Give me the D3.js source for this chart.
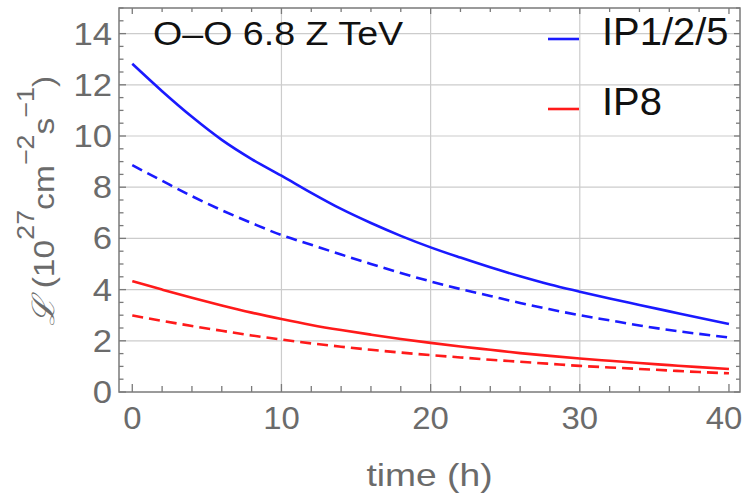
<!DOCTYPE html>
<html>
<head>
<meta charset="utf-8">
<script src="https://cdn.jsdelivr.net/npm/d3@7"></script>
<style>
  html, body { margin: 0; padding: 0; background: #fff; }
  svg { display: block; }
  text { font-family: "Liberation Sans", Arial, sans-serif; }
</style>
</head>
<body>
<div id="chart"></div>
<script>
const W = 746, H = 497;

// luminosity vs time, units of 1e27 cm^-2 s^-1
const timeH = [0, 2, 4, 6, 8, 10, 12, 14, 16, 18, 20, 22, 24, 26, 28, 30, 32, 34, 36, 38, 40];
const ip125Solid = [12.82, 11.75, 10.75, 9.85, 9.1, 8.45, 7.78, 7.15, 6.6, 6.1, 5.65, 5.25, 4.87, 4.52, 4.2, 3.92, 3.65, 3.4, 3.15, 2.9, 2.66];
const ip125Dashed = [8.86, 8.25, 7.65, 7.1, 6.6, 6.13, 5.75, 5.37, 5.0, 4.65, 4.32, 4.02, 3.75, 3.48, 3.23, 3.0, 2.8, 2.6, 2.42, 2.27, 2.13];
const ip8Solid = [4.33, 4.0, 3.68, 3.38, 3.1, 2.85, 2.62, 2.42, 2.24, 2.07, 1.92, 1.78, 1.65, 1.52, 1.41, 1.31, 1.22, 1.13, 1.05, 0.97, 0.9];
const ip8Dashed = [2.99, 2.78, 2.58, 2.39, 2.21, 2.05, 1.9, 1.77, 1.65, 1.54, 1.44, 1.35, 1.26, 1.18, 1.1, 1.02, 0.96, 0.9, 0.84, 0.78, 0.73];

const xTickLabels = [0, 10, 20, 30, 40];
const yTickLabels = [0, 2, 4, 6, 8, 10, 12, 14];
const xGrid = [10, 20, 30];
const yGrid = [2, 4, 6, 8, 10, 12, 14];
const legendItems = [
    { label: "IP1/2/5", color: "#1a1aff" },
    { label: "IP8", color: "#ff1a1a" }
];

const plot = { left: 119, right: 740, top: 8, bottom: 392 };

const x = d3.scaleLinear().domain([-0.89, 40.74]).range([plot.left, plot.right]);
const y = d3.scaleLinear().domain([0, 15]).range([plot.bottom, plot.top]);

const svg = d3.select("#chart").append("svg")
    .attr("width", W).attr("height", H);

const axisGray = "#7a7a7a";
const labelGray = "#6b6b6b";

// grid
svg.append("g").selectAll("line").data(xGrid).join("line")
    .attr("x1", d => x(d)).attr("x2", d => x(d))
    .attr("y1", plot.top).attr("y2", plot.bottom)
    .attr("stroke", "#cccccc").attr("stroke-width", 1.2);
svg.append("g").selectAll("line").data(yGrid).join("line")
    .attr("x1", plot.left).attr("x2", plot.right)
    .attr("y1", d => y(d)).attr("y2", d => y(d))
    .attr("stroke", "#cccccc").attr("stroke-width", 1.2);

// curves
const line = d3.line()
    .x((d, i) => x(timeH[i]))
    .y(d => y(d))
    .curve(d3.curveMonotoneX);

const series = [
    { values: ip125Solid, color: legendItems[0].color, dash: null },
    { values: ip125Dashed, color: legendItems[0].color, dash: "11,6" },
    { values: ip8Solid, color: legendItems[1].color, dash: null },
    { values: ip8Dashed, color: legendItems[1].color, dash: "11,6" }
];

svg.append("g").selectAll("path").data(series).join("path")
    .attr("d", d => line(d.values))
    .attr("fill", "none")
    .attr("stroke", d => d.color)
    .attr("stroke-width", 2.6)
    .attr("stroke-dasharray", d => d.dash);

// frame
svg.append("rect")
    .attr("x", plot.left).attr("y", plot.top)
    .attr("width", plot.right - plot.left).attr("height", plot.bottom - plot.top)
    .attr("fill", "none").attr("stroke", axisGray).attr("stroke-width", 1.5);

// ticks on all four sides, pointing inward
const xMinor = d3.range(0, 40.01, 2);
const yMinor = d3.range(0, 15.01, 0.5);
const ticks = svg.append("g").attr("stroke", axisGray).attr("stroke-width", 1.3);
ticks.selectAll(".xb").data(xMinor).join("line").attr("class", "xb")
    .attr("x1", d => x(d)).attr("x2", d => x(d))
    .attr("y1", plot.bottom).attr("y2", d => plot.bottom - (d % 10 === 0 ? 8 : 6));
ticks.selectAll(".xt").data(xMinor).join("line").attr("class", "xt")
    .attr("x1", d => x(d)).attr("x2", d => x(d))
    .attr("y1", plot.top).attr("y2", d => plot.top + (d % 10 === 0 ? 6 : 4));
ticks.selectAll(".yl").data(yMinor).join("line").attr("class", "yl")
    .attr("y1", d => y(d)).attr("y2", d => y(d))
    .attr("x1", plot.left).attr("x2", d => plot.left + (d % 2 === 0 ? 7 : 4.5));
ticks.selectAll(".yr").data(yMinor).join("line").attr("class", "yr")
    .attr("y1", d => y(d)).attr("y2", d => y(d))
    .attr("x1", plot.right).attr("x2", d => plot.right - (d % 2 === 0 ? 6 : 4));

// text drawn a little wider than Liberation Sans, like the original's font
function wide(sel, tx, ty, sx, rot) {
    return sel.attr("transform", `translate(${tx},${ty})${rot ? ` rotate(${rot})` : ""} scale(${sx},1)`);
}

// tick labels
svg.append("g").selectAll("text").data(xTickLabels).join("text")
    .each(function (d) { wide(d3.select(this), Math.min(x(d), 724), 429, 1.06); })
    .attr("text-anchor", "middle")
    .attr("font-size", 31).attr("fill", labelGray)
    .text(d => d);
svg.append("g").selectAll("text").data(yTickLabels).join("text")
    .each(function (d) { wide(d3.select(this), 112, y(d) + 11, 1.12); })
    .attr("text-anchor", "end")
    .attr("font-size", 31).attr("fill", labelGray)
    .text(d => d);

// axis labels
wide(svg.append("text"), (plot.left + plot.right) / 2, 486, 1.2)
    .attr("text-anchor", "middle")
    .attr("font-size", 31).attr("fill", labelGray)
    .text("time (h)");

const yLab = wide(svg.append("text"), 54, 201, 1.12, -90)
    .attr("text-anchor", "middle")
    .attr("font-size", 30).attr("fill", labelGray);
yLab.append("tspan").attr("font-family", "DejaVu Serif").attr("font-style", "italic")
    .attr("font-size", 31).text("ℒ");
yLab.append("tspan").text(" (10");
yLab.append("tspan").attr("font-size", 24).attr("dy", -20).text("27");
yLab.append("tspan").attr("dy", 20).text("cm");
yLab.append("tspan").attr("font-size", 24).attr("dy", -20).text("−2");
yLab.append("tspan").attr("dy", 20).text("s");
yLab.append("tspan").attr("font-size", 24).attr("dy", -20).text("−1");
yLab.append("tspan").attr("dy", 20).text(")");

// title
wide(svg.append("text"), 153, 45, 1.14)
    .attr("font-size", 33).attr("fill", "#111")
    .text("O–O 6.8 Z TeV");

// legend
const leg = svg.append("g").selectAll("g").data(legendItems).join("g")
    .attr("transform", (d, i) => `translate(0,${i * 70})`);
leg.append("line")
    .attr("x1", 548).attr("x2", 579).attr("y1", 39).attr("y2", 39)
    .attr("stroke", d => d.color).attr("stroke-width", 2.6);
leg.append("text")
    .attr("transform", "translate(602,45) scale(1.05,1)")
    .attr("font-size", 38).attr("fill", "#111")
    .text(d => d.label);
</script>
</body>
</html>
